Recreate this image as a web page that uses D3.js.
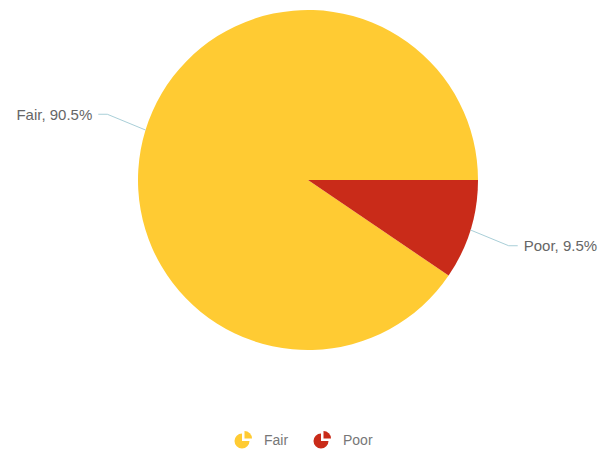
<!DOCTYPE html>
<html>
<head>
<meta charset="utf-8">
<script src="https://cdn.jsdelivr.net/npm/d3@7"></script>
<style>
  body { margin: 0; background: #fff; }
  svg { display: block; font-family: "Liberation Sans", Arial, sans-serif; }
</style>
</head>
<body>
<svg id="chart"></svg>
<script>
// values (percent)
const categories = ["Fair", "Poor"];
const shares = [90.5, 9.5];
const colors = ["#ffcb33", "#c92b19"];

const width = 603, height = 450;
const cx = 308, cy = 180, radius = 170;

const svg = d3.select("#chart")
  .attr("width", width)
  .attr("height", height);

const data = categories.map((c, i) => ({ name: c, value: shares[i], color: colors[i] }));

// Fair ends at 3 o'clock, Poor starts there going clockwise
const total = d3.sum(shares);
const start = Math.PI / 2 - 2 * Math.PI * shares[0] / total;
const pie = d3.pie()
  .sort(null)
  .value(d => d.value)
  .startAngle(start)
  .endAngle(start + 2 * Math.PI);

const arc = d3.arc().innerRadius(0).outerRadius(radius);
const arcs = pie(data);

const g = svg.append("g").attr("transform", `translate(${cx},${cy})`);

g.selectAll("path.slice")
  .data(arcs)
  .enter().append("path")
  .attr("class", "slice")
  .attr("d", arc)
  .attr("fill", d => d.data.color);

// label lines: radial segment then short horizontal one
const len1 = 40, len2 = 9, gap = 6;
arcs.forEach(a => {
  const mid = (a.startAngle + a.endAngle) / 2;
  const sx = Math.sin(mid), sy = -Math.cos(mid);
  const p0 = [radius * sx, radius * sy];
  const p1 = [(radius + len1) * sx, (radius + len1) * sy - (sx < 0 ? 4 : -4)];
  const dir = sx < 0 ? -1 : 1;
  const p2 = [p1[0] + dir * len2, p1[1]];
  g.append("polyline")
    .attr("points", [p0, p1, p2].map(p => p.join(",")).join(" "))
    .attr("fill", "none")
    .attr("stroke", "#a9cfd8")
    .attr("stroke-width", 1);
  g.append("text")
    .attr("x", p2[0] + dir * gap)
    .attr("y", p2[1])
    .attr("dy", "0.36em")
    .attr("text-anchor", dir < 0 ? "end" : "start")
    .attr("fill", "#666")
    .style("font-size", "15px")
    .text(`${a.data.name}, ${d3.format(".1f")(a.data.value)}%`);
});

// legend with little pie icons
const legendX = [243, 322], legendY = 440;
const icon = d3.arc().innerRadius(0).outerRadius(7.5);
const leg = svg.selectAll("g.legend")
  .data(data)
  .enter().append("g")
  .attr("class", "legend")
  .attr("transform", (d, i) => `translate(${legendX[i]},${legendY})`);

leg.append("path")
  .attr("transform", "translate(-1,1)")
  .attr("d", icon({ startAngle: Math.PI / 2, endAngle: 2 * Math.PI }))
  .attr("fill", d => d.color);
leg.append("path")
  .attr("transform", "translate(1.5,-1.5)")
  .attr("d", icon({ startAngle: 0, endAngle: Math.PI / 2 }))
  .attr("fill", d => d.color);
leg.append("text")
  .attr("x", 21)
  .attr("dy", "0.36em")
  .attr("fill", "#777")
  .style("font-size", "14px")
  .text(d => d.name);
</script>
</body>
</html>
